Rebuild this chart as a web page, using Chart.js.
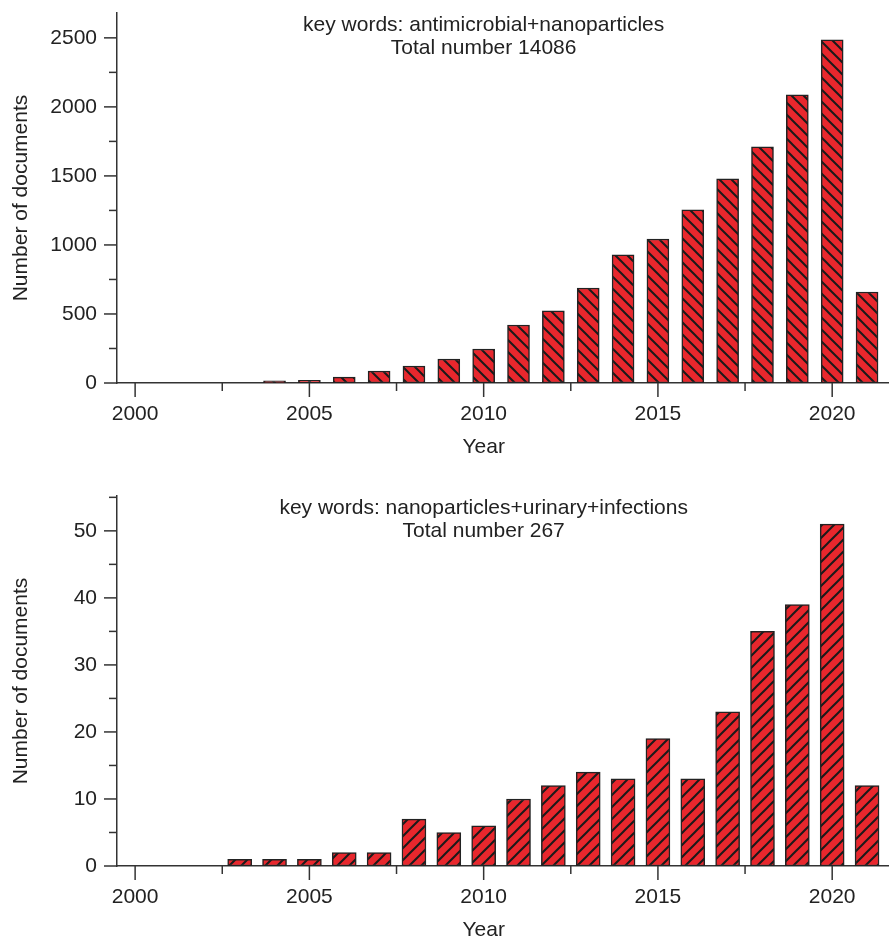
<!DOCTYPE html>
<html lang="en">
<head>
<meta charset="UTF-8" />
<title>Documents per year</title>
<script src="https://cdn.jsdelivr.net/npm/chart.js"></script>
<style>
  html, body { margin: 0; padding: 0; background: #fff; }
  #wrap { position: relative; width: 889px; height: 937px; overflow: hidden; }
  .box { position: absolute; left: 0; width: 889px; }
  #box1 { top: 0; height: 483px; }
  #box2 { top: 483px; height: 454px; }
</style>
</head>
<body>
<div id="wrap">
  <div class="box" id="box1"><canvas id="c1"></canvas></div>
  <div class="box" id="box2"><canvas id="c2"></canvas></div>
</div>
<script>
// antimicrobial + nanoparticles
const years1 = [2004, 2005, 2006, 2007, 2008, 2009, 2010, 2011, 2012, 2013, 2014, 2015, 2016, 2017, 2018, 2019, 2020, 2021];
const docs1  = [15, 20, 43, 87, 123, 174, 246, 420, 522, 688, 928, 1043, 1254, 1478, 1710, 2087, 2486, 659];
const caption1 = ['key words: antimicrobial+nanoparticles', 'Total number 14086'];
const yTicks1 = [0, 500, 1000, 1500, 2000, 2500];

// nanoparticles + urinary + infections
const years2 = [2003, 2004, 2005, 2006, 2007, 2008, 2009, 2010, 2011, 2012, 2013, 2014, 2015, 2016, 2017, 2018, 2019, 2020, 2021];
const docs2  = [1, 1, 1, 2, 2, 7, 5, 6, 10, 12, 14, 13, 19, 13, 23, 35, 39, 51, 12];
const caption2 = ['key words: nanoparticles+urinary+infections', 'Total number 267'];
const yTicks2 = [0, 10, 20, 30, 40, 50];

const yearTicks = [2000, 2005, 2010, 2015, 2020];

const RED = '#e8272d';
const INK = '#222';
const AXIS = '#333';
const FONT = '"Liberation Sans", Arial, sans-serif';

Chart.defaults.font.family = FONT;
Chart.defaults.font.size = 21;
Chart.defaults.color = INK;

function hatch(dir) {
  const s = 12;
  const c = document.createElement('canvas');
  c.width = s; c.height = s;
  const g = c.getContext('2d');
  g.fillStyle = RED;
  g.fillRect(0, 0, s, s);
  g.strokeStyle = '#1a1a1a';
  g.lineWidth = 2;
  g.beginPath();
  for (let k = -1; k <= 1; k++) {
    if (dir === 'down') {
      g.moveTo(k * s - 2, -2); g.lineTo(k * s + s + 2, s + 2);
    } else {
      g.moveTo(k * s - 2, s + 2); g.lineTo(k * s + s + 2, -2);
    }
  }
  g.stroke();
  return g.createPattern(c, 'repeat');
}

// tick marks (major + minor), the caption and the "Year" title
const frame = {
  id: 'frame',
  afterDraw(chart, args, opts) {
    const { ctx, chartArea: area, scales: { x, y } } = chart;
    ctx.save();
    ctx.strokeStyle = AXIS;
    ctx.lineWidth = 1.5;
    const line = (x1, y1, x2, y2) => { ctx.beginPath(); ctx.moveTo(x1, y1); ctx.lineTo(x2, y2); ctx.stroke(); };

    const xStep = yearTicks[1] - yearTicks[0];
    yearTicks.forEach(v => {
      const p = x.getPixelForValue(v);
      line(p, area.bottom, p, area.bottom + 14);
      const m = v + xStep / 2;
      if (m < x.max) { const q = x.getPixelForValue(m); line(q, area.bottom, q, area.bottom + 8); }
    });
    const yStep = opts.yTicks[1] - opts.yTicks[0];
    opts.yTicks.forEach(v => {
      const p = y.getPixelForValue(v);
      line(area.left - 13, p, area.left, p);
      const m = v + yStep / 2;
      if (m < y.max) { const q = y.getPixelForValue(m); line(area.left - 8, q, area.left, q); }
    });

    const cx = x.getPixelForValue((yearTicks[0] + yearTicks[yearTicks.length - 1]) / 2);
    ctx.fillStyle = INK;
    ctx.font = '21px ' + FONT;
    ctx.textAlign = 'center';
    ctx.textBaseline = 'alphabetic';
    ctx.fillText(opts.caption[0], cx, 31);
    ctx.fillText(opts.caption[1], cx, 54);
    ctx.fillText('Year', cx, 453);
    ctx.restore();
  }
};

function makeChart(id, years, docs, yTicks, yMax, caption, dir, barW) {
  const canvas = document.getElementById(id);
  const H = canvas.parentNode.clientHeight;
  return new Chart(canvas, {
    type: 'bar',
    data: {
      datasets: [{
        data: years.map((yr, i) => ({ x: yr, y: docs[i] })),
        backgroundColor: hatch(dir),
        borderColor: '#222',
        borderWidth: 1.5,
        borderSkipped: false,
        barThickness: barW
      }]
    },
    options: {
      responsive: true,
      maintainAspectRatio: false,
      animation: false,
      layout: { padding: { top: 13, right: 0, bottom: 0, left: 0 } },
      plugins: {
        legend: { display: false },
        tooltip: { enabled: false },
        frame: { caption: caption, yTicks: yTicks }
      },
      scales: {
        x: {
          type: 'linear',
          offset: false,
          min: 1999.48,
          max: 2021.63,
          // tick marks are drawn by the frame plugin; tickLength only spaces the labels
          grid: { display: false, drawTicks: true, tickLength: 19, offset: false },
          border: { color: AXIS, width: 1.5 },
          ticks: { padding: 0, maxRotation: 0, autoSkip: false, callback: v => String(v) },
          afterBuildTicks: s => { s.ticks = yearTicks.map(v => ({ value: v })); },
          afterFit: s => { s.height = H - 383; }
        },
        y: {
          min: 0,
          max: yMax,
          grid: { display: false, drawTicks: true, tickLength: 20 },
          border: { color: AXIS, width: 1.5 },
          ticks: { padding: 0, font: { lineHeight: 0.1 }, callback: v => String(v) },
          afterBuildTicks: s => { s.ticks = yTicks.map(v => ({ value: v })); },
          afterFit: s => { s.width = 117; },
          title: { display: true, text: 'Number of documents', padding: { top: 9, bottom: 0 } }
        }
      }
    },
    plugins: [frame]
  });
}

makeChart('c1', years1, docs1, yTicks1, 2680, caption1, 'down', 22);
makeChart('c2', years2, docs2, yTicks2, 55.2, caption2, 'up', 24);
</script>
</body>
</html>
